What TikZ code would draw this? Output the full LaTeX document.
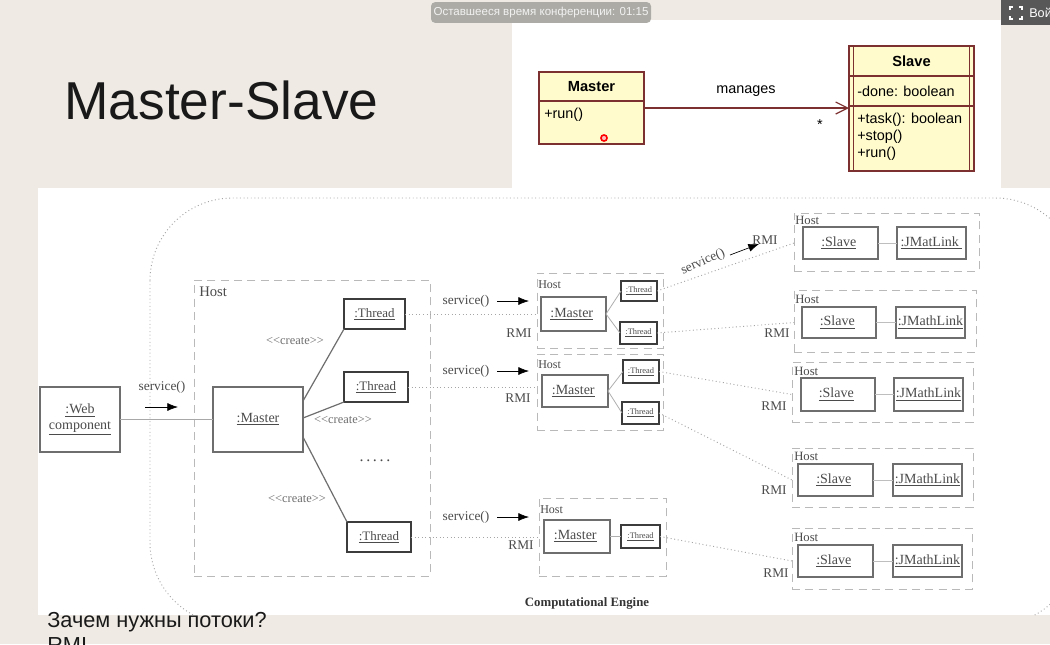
\documentclass[tikz,border=0pt]{standalone}
\usepackage{fontspec}
\setmainfont{Liberation Sans}
\newfontfamily\serifface{Liberation Serif}
\usetikzlibrary{arrows.meta,calc}

\definecolor{bgc}{RGB}{239,235,228}
\definecolor{pillc}{RGB}{172,171,166}
\definecolor{btnc}{RGB}{88,88,88}
\definecolor{umlfill}{RGB}{255,251,204}
\definecolor{umlline}{RGB}{125,48,48}
\definecolor{objc}{RGB}{110,110,110}
\definecolor{thrc}{RGB}{60,60,60}
\definecolor{hostc}{RGB}{185,185,185}
\definecolor{connc}{RGB}{165,165,165}
\definecolor{txtc}{RGB}{75,75,75}

% box node from its corner coordinates: name, style, x1, y1, x2, y2, text
\newcommand\boxat[7]{%
  \node[#2, minimum width={(#5-#3)*0.75pt}, minimum height={(#6-#4)*0.75pt}]
    (#1) at ({(#3+#5)/2},{(#4+#6)/2}) {#7};}

\tikzset{
  sf/.style={font=\serifface\fontsize{#1}{#1}\selectfont},
  obj/.style={draw=objc, line width=0.8pt, inner sep=0pt, outer sep=0pt,
              text=txtc, align=center, sf=10.5},
  thr/.style={obj, draw=thrc, line width=1.6pt, sf=9.7},
  sthr/.style={obj, draw=thrc, line width=1.4pt, sf=6.3},
  hostbox/.style={draw=hostc, dash pattern=on 6pt off 4pt, line width=0.7pt,
                  inner sep=0pt, outer sep=0pt},
  conn/.style={draw=connc, dotted, line width=0.7pt},
  link/.style={draw=objc!80, line width=0.6pt},
  lbl/.style={text=txtc, inner sep=0pt, sf=10},
  msgarrow/.style={draw=black, line width=0.5pt, -{Latex[length=8pt,width=6pt]}},
  umlbox/.style={draw=umlline, fill=umlfill, line width=0.9pt, inner sep=0pt, outer sep=0pt},
  umltxt/.style={inner sep=0pt, text=black, font=\fontsize{10.8}{13}\selectfont},
}

\begin{document}
\begin{tikzpicture}[x=0.75pt, y=-0.75pt]
\useasboundingbox (0,0) rectangle (1050,644);
\clip (0,0) rectangle (1050,644);

% slide background and the two pasted images
\fill[bgc] (0,0) rectangle (1050,644);
\fill[white] (38,188) rectangle (1050,615);
\fill[white] (512,20) rectangle (1001,188);

% conference overlay
\node[fill=pillc, rounded corners=3pt, text=white!95!black, inner sep=0pt,
      minimum width=165pt, minimum height=15.5pt, font=\fontsize{8.65}{10}\selectfont]
  (timer) at (541,12.5) {Оставшееся время конференции: 01:15};
\fill[btnc] (1001,0) rectangle (1050,25);
\draw[white, line width=1.1pt]
  (1010,10) -- (1010,7) -- (1013,7)  (1019,7) -- (1022,7) -- (1022,10)
  (1022,16) -- (1022,19) -- (1019,19) (1013,19) -- (1010,19) -- (1010,16);
\node[anchor=west, text=white, inner sep=0pt, font=\fontsize{9.5}{11}\selectfont]
  (exit) at (1029,13) {Вой};

% slide title and footer
\node[anchor=base west, inner sep=0pt, text=black!90, font=\fontsize{40}{44}\selectfont]
  (title) at (64,119) {Master-Slave};
\node[anchor=base west, inner sep=0pt, text=black!90, font=\fontsize{16.3}{18}\selectfont]
  (q1) at (47,627) {Зачем нужны потоки?};
\node[anchor=base west, inner sep=0pt, text=black!90, font=\fontsize{16.3}{18}\selectfont]
  (q2) at (47,652) {RMI};

% ---------- UML class diagram ----------
\boxat{mbox}{umlbox}{539}{72}{644}{144}{}
\draw[umlline, line width=0.9pt] (539,101) -- (644,101);
\node[umltxt, font=\bfseries\fontsize{11}{13}\selectfont] (mname) at (591.5,87) {Master};
\node[umltxt, anchor=west] (mrun) at (544,115) {+run()};
\draw[red, line width=1.2pt, fill=red!25] (604,138) circle[radius=2.3pt];

\boxat{sbox}{umlbox}{849}{46}{974}{171}{}
\draw[umlline, line width=0.9pt] (853.5,46) -- (853.5,171) (969.5,46) -- (969.5,171)
  (849,76) -- (974,76) (849,106) -- (974,106);
\node[umltxt, font=\bfseries\fontsize{11}{13}\selectfont] (sname) at (911.5,61) {Slave};
\node[umltxt, anchor=west] (sdone) at (857,91) {-done: boolean};
\node[umltxt, anchor=west] (stask) at (857,120) {+task(): boolean};
\node[umltxt, anchor=west] (sstop) at (857,137) {+stop()};
\node[umltxt, anchor=west] (srun) at (857,154) {+run()};

\draw[umlline, line width=0.9pt, -{Straight Barb[length=9pt,width=9pt]}]
  (mbox.east |- 0,108) -- (sbox.west |- 0,108);
\node[umltxt] (manages) at (746,91) {manages};
\node[umltxt] (mult) at (820,125) {*};

% ---------- deployment diagram ----------
\begin{scope}
  \clip (38,188) rectangle (1050,615);
  \draw[conn, rounded corners=62pt] (150,198) rectangle (1078,625);
\end{scope}
\node[anchor=base, inner sep=0pt, text=black!80, font=\serifface\bfseries\fontsize{9.6}{11}\selectfont]
  (engine) at (587,606) {Computational Engine};

% client side
\boxat{web}{obj}{40}{387}{120}{452}{\underline{:Web}\\[1pt]\underline{component}}
\boxat{H0}{hostbox}{194}{280}{430}{576}{}
\node[lbl, anchor=west, sf=11] (h0l) at (199,292) {Host};
\boxat{master}{obj}{213}{387}{303}{452}{\underline{:Master}}
\draw[link, draw=objc!60] (web.east) -- (master.west);
\node[lbl] (svc0) at (162,387) {service()};
\coordinate (a0s) at (145,407); \coordinate (a0e) at (178,407);
\draw[msgarrow] (a0s) -- (a0e);

\boxat{T1}{thr}{344}{299}{405}{329}{\underline{:Thread}}
\boxat{T2}{thr}{344}{372}{408}{402}{\underline{:Thread}}
\boxat{T3}{thr}{347}{522}{411}{552}{\underline{:Thread}}
\draw[draw=objc, line width=0.9pt] (master.east |- 0,401) -- (T1.south west);
\draw[draw=objc, line width=0.9pt] (master.east |- 0,418) -- (T2.south west);
\draw[draw=objc, line width=0.9pt] (master.east |- 0,437) -- (T3.north west);
\node[lbl, sf=9.3, text=txtc!80] (c1) at (295,341) {<{}<create>{}>};
\node[lbl, sf=9.3, text=txtc!80] (c2) at (343,420) {<{}<create>{}>};
\node[lbl, sf=9.3, text=txtc!80] (c3) at (297,499) {<{}<create>{}>};
\node[lbl, sf=12] (dots) at (375,461) {.\,.\,.\,.\,.};

% middle hosts
\boxat{HA}{hostbox}{537}{273}{663}{348}{}
\node[lbl, anchor=west, sf=9] (hal) at (538,285) {Host};
\boxat{mA}{obj}{541}{297}{606}{331}{\underline{:Master}\ }
\boxat{tA1}{sthr}{621}{281}{657}{301}{\underline{:Thread}}
\boxat{tA2}{sthr}{620}{322}{657}{344}{\underline{:Thread}}

\boxat{HB}{hostbox}{537}{354}{663}{430}{}
\node[lbl, anchor=west, sf=9] (hbl) at (538,365) {Host};
\boxat{mB}{obj}{542}{375}{608}{407}{\underline{:Master}\ }
\boxat{tB1}{sthr}{623}{360}{659}{383}{\underline{:Thread}}
\boxat{tB2}{sthr}{622}{402}{659}{424}{\underline{:Thread}}

\boxat{HC}{hostbox}{539}{498}{666}{576}{}
\node[lbl, anchor=west, sf=9] (hcl) at (540,510) {Host};
\boxat{mC}{obj}{544}{520}{610}{553}{\underline{:Master}\ }
\boxat{tC}{sthr}{621}{525}{660}{548}{\underline{:Thread}}

\foreach \m/\t in {mA/tA1, mA/tA2, mB/tB1, mB/tB2, mC/tC}
  \draw[link, draw=objc!55] (\m.east) -- (\t.west);

\foreach \h/\y in {A/301, B/371, C/517} {
  \node[lbl] (svc\h) at (466,\y) {service()};
  \coordinate (as\h) at (497,\y); \coordinate (ae\h) at (529,\y);
  \draw[msgarrow] (as\h) -- (ae\h);
}
\node[lbl] (rmiA) at (519,333) {RMI};
\node[lbl] (rmiB) at (518,398) {RMI};
\node[lbl] (rmiC) at (521,545) {RMI};

\draw[conn] (T1.east) -- (T1.east -| HA.west);
\draw[conn] (T2.east) -- (T2.east -| HB.west);
\draw[conn] (T3.east) -- (T3.east -| HC.west);

% slave hosts
\boxat{S1}{hostbox}{794}{213}{979}{271}{}
\boxat{S2}{hostbox}{794}{290}{976}{352}{}
\boxat{S3}{hostbox}{792}{362}{973}{422}{}
\boxat{S4}{hostbox}{792}{448}{973}{507}{}
\boxat{S5}{hostbox}{792}{528}{972}{589}{}
\node[lbl, anchor=west, sf=9.5] (s1l) at (795,220) {Host};
\node[lbl, anchor=west, sf=9.5] (s2l) at (795,299) {Host};
\node[lbl, anchor=west, sf=9.5] (s3l) at (794,371) {Host};
\node[lbl, anchor=west, sf=9.5] (s4l) at (794,456) {Host};
\node[lbl, anchor=west, sf=9.5] (s5l) at (794,537) {Host};

\boxat{sl1}{obj}{803}{227}{878}{259}{\underline{:Slave}\ }
\boxat{jl1}{obj}{897}{227}{966}{259}{\underline{:JMatLink\ }}
\boxat{sl2}{obj}{802}{307}{876}{338}{\underline{:Slave}\ }
\boxat{jl2}{obj}{896}{307}{965}{338}{\underline{:JMathLink}}
\boxat{sl3}{obj}{801}{378}{875}{411}{\underline{:Slave}\ }
\boxat{jl3}{obj}{894}{378}{963}{411}{\underline{:JMathLink}}
\boxat{sl4}{obj}{798}{464}{873}{496}{\underline{:Slave}\ }
\boxat{jl4}{obj}{893}{464}{962}{496}{\underline{:JMathLink}}
\boxat{sl5}{obj}{798}{545}{873}{577}{\underline{:Slave}\ }
\boxat{jl5}{obj}{893}{545}{962}{577}{\underline{:JMathLink}}
\foreach \i in {1,...,5}
  \draw[link, draw=objc!45] (sl\i.east) -- (jl\i.west);

\draw[conn] (tA1.east) -- (S1.west |- sl1.west);
\draw[conn] (tA2.east) -- (S2.west |- sl2.west);
\draw[conn] (tB1.east) -- (S3.west |- sl3.west);
\draw[conn] (tB2.east) -- (S4.west |- sl4.west);
\draw[conn] (tC.east) -- (S5.west |- sl5.west);

\node[lbl] (rmi1) at (765,240) {RMI};
\node[lbl] (rmi2) at (777,333) {RMI};
\node[lbl] (rmi3) at (774,406) {RMI};
\node[lbl] (rmi4) at (774,490) {RMI};
\node[lbl] (rmi5) at (776,573) {RMI};
\node[lbl, rotate=24] (svc1) at (703,262) {service()};
\coordinate (as1) at (730,255); \coordinate (ae1) at (759,244);
\draw[msgarrow] (as1) -- (ae1);
\end{tikzpicture}
\end{document}
